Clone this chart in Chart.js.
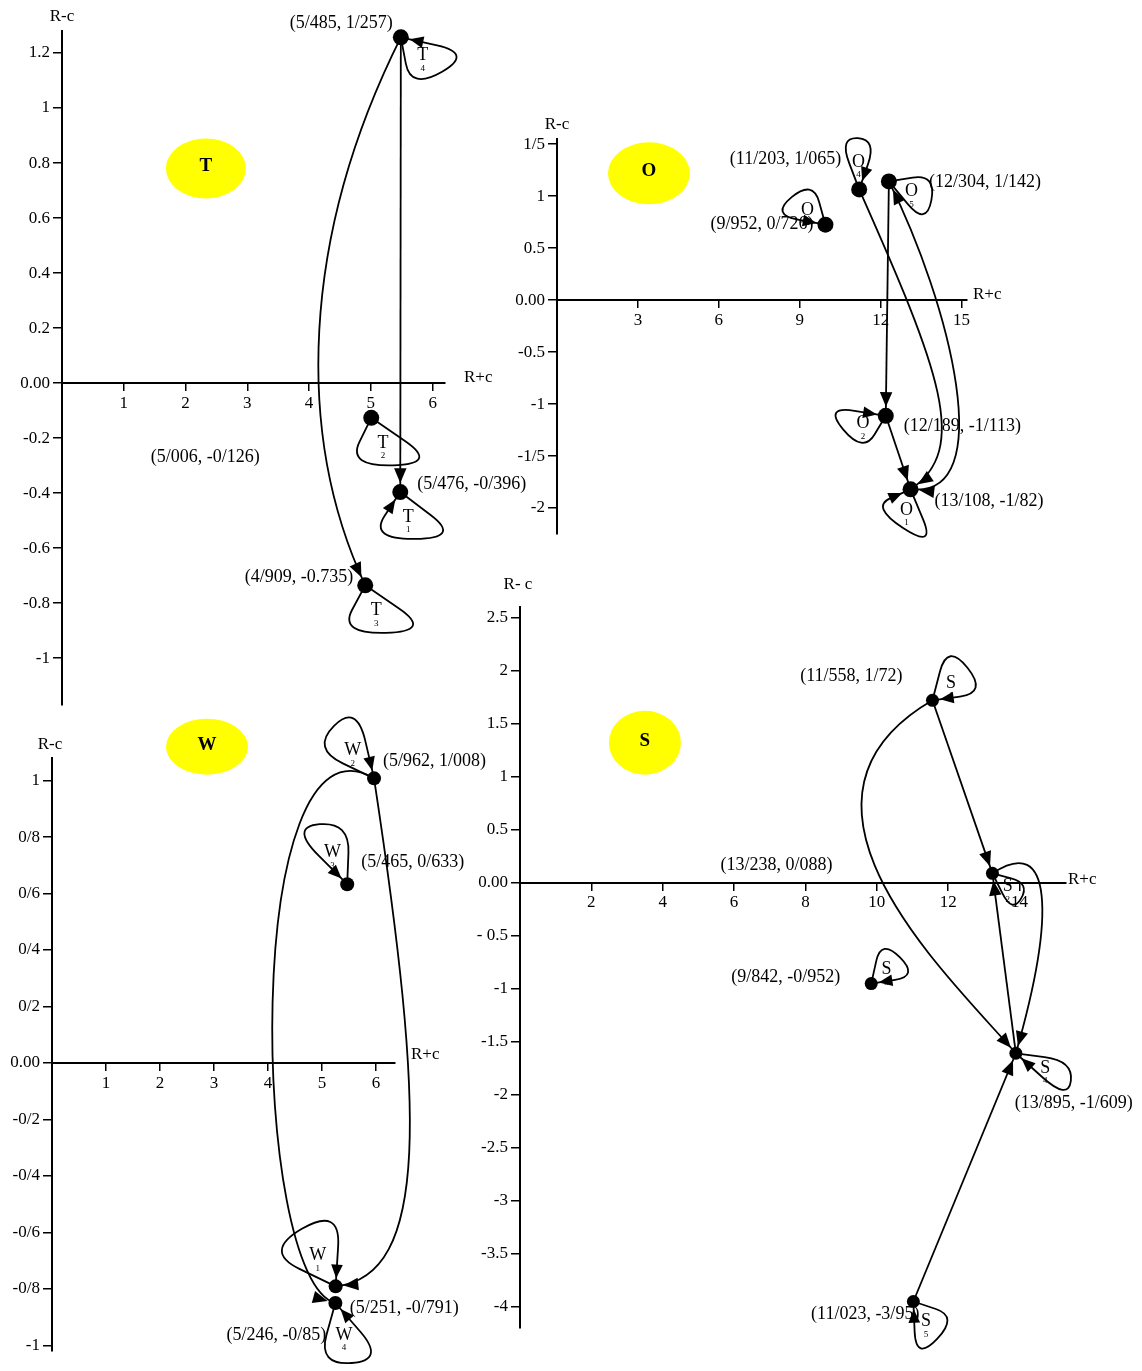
<!DOCTYPE html>
<html>
<head>
<meta charset="utf-8">
<script src="https://cdn.jsdelivr.net/npm/chart.js@4.4.1/dist/chart.umd.min.js"></script>
<style>
  body { margin: 0; background: #fff; }
  #wrap { position: relative; width: 1142px; height: 1371px; overflow: hidden; }
  #wrap canvas { position: absolute; left: 0; top: 0; }
</style>
</head>
<body>
<div id="wrap">
  <canvas id="chartT" width="1142" height="1371"></canvas>
  <canvas id="chartO" width="1142" height="1371"></canvas>
  <canvas id="chartW" width="1142" height="1371"></canvas>
  <canvas id="chartS" width="1142" height="1371"></canvas>
</div>
<script>
// ---- T panel ----
const tNames = ['T1', 'T2', 'T3', 'T4'];
const tX = [5.476, 5.006, 4.909, 5.485];
const tY = [-0.396, -0.126, -0.735, 1.257];
const tLabels = ['(5/476, -0/396)', '(5/006, -0/126)', '(4/909, -0.735)', '(5/485, 1/257)'];
const tEdges = [[3, 0], [3, 2]];
const tTicksX = [1, 2, 3, 4, 5, 6];
const tTicksY = [1.2, 1, 0.8, 0.6, 0.4, 0.2, 0, -0.2, -0.4, -0.6, -0.8, -1];
const tTickLabelsY = ['1.2', '1', '0.8', '0.6', '0.4', '0.2', '0.00', '-0.2', '-0.4', '-0.6', '-0.8', '-1'];

// ---- O panel ----
const oNames = ['O1', 'O2', 'O3', 'O4', 'O5'];
const oX = [13.108, 12.189, 9.952, 11.203, 12.304];
const oY = [-1.82, -1.113, 0.726, 1.065, 1.142];
const oLabels = ['(13/108, -1/82)', '(12/189, -1/113)', '(9/952, 0/726)', '(11/203, 1/065)', '(12/304, 1/142)'];
const oEdges = [[4, 1], [1, 0], [3, 0], [0, 4]];
const oTicksX = [3, 6, 9, 12, 15];
const oTicksY = [1.5, 1, 0.5, 0, -0.5, -1, -1.5, -2];
const oTickLabelsY = ['1/5', '1', '0.5', '0.00', '-0.5', '-1', '-1/5', '-2'];

// ---- W panel ----
const wNames = ['W1', 'W2', 'W3', 'W4'];
const wX = [5.251, 5.962, 5.465, 5.246];
const wY = [-0.791, 1.008, 0.633, -0.85];
const wLabels = ['(5/251, -0/791)', '(5/962, 1/008)', '(5/465, 0/633)', '(5/246, -0/85)'];
const wEdges = [[1, 0], [1, 3]];
const wTicksX = [1, 2, 3, 4, 5, 6];
const wTicksY = [1, 0.8, 0.6, 0.4, 0.2, 0, -0.2, -0.4, -0.6, -0.8, -1];
const wTickLabelsY = ['1', '0/8', '0/6', '0/4', '0/2', '0.00', '-0/2', '-0/4', '-0/6', '-0/8', '-1'];

// ---- S panel ----
const sNames = ['S1', 'S2', 'S3', 'S4', 'S5'];
const sX = [11.558, 13.238, 9.842, 13.895, 11.023];
const sY = [1.72, 0.088, -0.952, -1.609, -3.95];
const sLabels = ['(11/558, 1/72)', '(13/238, 0/088)', '(9/842, -0/952)', '(13/895, -1/609)', '(11/023, -3/95)'];
const sEdges = [[0, 1], [0, 3], [3, 1], [1, 3], [4, 3]];
const sTicksX = [2, 4, 6, 8, 10, 12, 14];
const sTicksY = [2.5, 2, 1.5, 1, 0.5, 0, -0.5, -1, -1.5, -2, -2.5, -3, -3.5, -4];
const sTickLabelsY = ['2.5', '2', '1.5', '1', '0.5', '0.00', '- 0.5', '-1', '-1.5', '-2', '-2.5', '-3', '-3.5', '-4'];

Chart.defaults.font.family = "'Liberation Serif', 'DejaVu Serif', serif";
Chart.defaults.font.size = 17;
Chart.defaults.color = '#000';

function arrowHead(ctx, tx, ty, ang, size) {
    ctx.beginPath();
    ctx.moveTo(tx, ty);
    ctx.lineTo(tx - size * Math.cos(ang - 0.4), ty - size * Math.sin(ang - 0.4));
    ctx.lineTo(tx - size * Math.cos(ang + 0.4), ty - size * Math.sin(ang + 0.4));
    ctx.closePath();
    ctx.fill();
}

function makePanel(id, p) {
    const pts = p.xs.map((v, i) => ({ x: v, y: p.ys[i] }));

    const deco = {
        id: 'deco',
        beforeDatasetsDraw(chart) {
            const ctx = chart.ctx;
            const sx = chart.scales.x, sy = chart.scales.y;
            const node = i => [sx.getPixelForValue(p.xs[i]), sy.getPixelForValue(p.ys[i])];
            ctx.save();

            // yellow badge
            const bx = sx.getPixelForValue(p.badge.x), by = sy.getPixelForValue(p.badge.y);
            ctx.fillStyle = '#ffff00';
            ctx.beginPath();
            ctx.ellipse(bx, by, p.badge.rx, p.badge.ry, 0, 0, Math.PI * 2);
            ctx.fill();
            ctx.fillStyle = '#000';
            ctx.font = "bold 19px 'Liberation Serif'";
            ctx.textAlign = 'center';
            ctx.textBaseline = 'middle';
            ctx.fillText(p.badge.text, bx, by - 2);

            ctx.strokeStyle = '#000';
            ctx.fillStyle = '#000';
            ctx.lineWidth = 1.8;
            ctx.lineJoin = 'round';

            // transitions
            p.edges.forEach((e, k) => {
                const a = node(e[0]), b = node(e[1]);
                const cv = p.curves[k];
                let c1 = a, c2 = b;
                ctx.beginPath();
                ctx.moveTo(a[0], a[1]);
                if (cv) {
                    c1 = [a[0] + cv.c1[0], a[1] + cv.c1[1]];
                    c2 = [b[0] + cv.c2[0], b[1] + cv.c2[1]];
                    ctx.bezierCurveTo(c1[0], c1[1], c2[0], c2[1], b[0], b[1]);
                } else {
                    ctx.lineTo(b[0], b[1]);
                }
                ctx.stroke();
                const r = p.r + 1;
                const endAng = cv ? Math.atan2(b[1] - c2[1], b[0] - c2[0]) : Math.atan2(b[1] - a[1], b[0] - a[0]);
                arrowHead(ctx, b[0] - r * Math.cos(endAng), b[1] - r * Math.sin(endAng), endAng, 16);
                if (cv && cv.both) {
                    const stAng = Math.atan2(a[1] - c1[1], a[0] - c1[0]);
                    arrowHead(ctx, a[0] - r * Math.cos(stAng), a[1] - r * Math.sin(stAng), stAng, 16);
                }
            });

            // self loops: soft triangle node -> p1 -> p2 -> node
            const k = 1.25;
            p.loops.forEach((lp, i) => {
                const n = node(i);
                const q1 = [n[0] + k * lp.p1[0], n[1] + k * lp.p1[1]];
                const q2 = [n[0] + k * lp.p2[0], n[1] + k * lp.p2[1]];
                const m01 = [(n[0] + q1[0]) / 2, (n[1] + q1[1]) / 2];
                const m12 = [(q1[0] + q2[0]) / 2, (q1[1] + q2[1]) / 2];
                const m20 = [(q2[0] + n[0]) / 2, (q2[1] + n[1]) / 2];
                ctx.beginPath();
                ctx.moveTo(n[0], n[1]);
                ctx.lineTo(m01[0], m01[1]);
                ctx.quadraticCurveTo(q1[0], q1[1], m12[0], m12[1]);
                ctx.quadraticCurveTo(q2[0], q2[1], m20[0], m20[1]);
                ctx.lineTo(n[0], n[1]);
                ctx.stroke();
                if (lp.arrow) {
                    const ang = Math.atan2(n[1] - q2[1], n[0] - q2[0]);
                    arrowHead(ctx, n[0] - (p.r + 1) * Math.cos(ang), n[1] - (p.r + 1) * Math.sin(ang), ang, 15);
                }
                const lx = n[0] + (lp.p1[0] + lp.p2[0]) / 3, ly = n[1] + (lp.p1[1] + lp.p2[1]) / 3 + 3;
                const nm = p.names[i];
                ctx.textAlign = 'center';
                ctx.textBaseline = 'middle';
                ctx.font = "18px 'Liberation Serif'";
                ctx.fillText(nm[0], lx, ly - 3);
                ctx.font = "9px 'Liberation Serif'";
                ctx.fillText(nm.slice(1), lx, ly + 10);
            });
            ctx.restore();
        },
        afterDatasetsDraw(chart) {
            const ctx = chart.ctx;
            const sx = chart.scales.x, sy = chart.scales.y;
            const area = chart.chartArea;
            ctx.save();
            ctx.fillStyle = '#000';
            ctx.font = "18px 'Liberation Serif'";
            ctx.textBaseline = 'middle';
            p.labels.forEach((txt, i) => {
                const o = p.labelPos[i];
                ctx.textAlign = o[2];
                ctx.fillText(txt, sx.getPixelForValue(p.xs[i]) + o[0], sy.getPixelForValue(p.ys[i]) + o[1]);
            });
            // axis titles
            ctx.font = "17px 'Liberation Serif'";
            ctx.textAlign = 'center';
            ctx.fillText(p.titleY.text, area.left + p.titleY.dx, area.top + p.titleY.dy);
            ctx.textAlign = 'left';
            ctx.fillText('R+c', area.right + p.titleX.dx, sy.getPixelForValue(0) + p.titleX.dy);
            ctx.restore();
        }
    };

    return new Chart(document.getElementById(id), {
        type: 'scatter',
        data: {
            datasets: [{
                data: pts,
                pointRadius: p.r,
                pointHoverRadius: p.r,
                backgroundColor: '#000',
                borderWidth: 0,
                clip: false
            }]
        },
        options: {
            responsive: false,
            animation: false,
            devicePixelRatio: 1,
            events: [],
            layout: { autoPadding: false, padding: p.pad },
            plugins: { legend: { display: false }, tooltip: { enabled: false } },
            scales: {
                x: {
                    type: 'linear', min: p.xMin, max: p.xMax, position: { y: 0 },
                    afterBuildTicks: s => { s.ticks = p.ticksX.map(v => ({ value: v })); },
                    ticks: { autoSkip: false, maxRotation: 0, padding: 3 },
                    grid: { drawOnChartArea: false, color: '#000', lineWidth: 1.5, tickLength: 7 },
                    border: { color: '#000', width: 2 }
                },
                y: {
                    type: 'linear', min: p.yMin, max: p.yMax, position: 'left',
                    afterFit: s => { s.width = p.yWidth; },
                    afterBuildTicks: s => { s.ticks = p.ticksY.map(v => ({ value: v })); },
                    ticks: { autoSkip: false, padding: 3, callback: (v, i) => p.tickLabelsY[i] },
                    grid: { drawOnChartArea: false, color: '#000', lineWidth: 1.5, tickLength: 9 },
                    border: { color: '#000', width: 2 }
                }
            }
        },
        plugins: [deco]
    });
}

document.addEventListener('DOMContentLoaded', function () {
    makePanel('chartT', {
        names: tNames, xs: tX, ys: tY, labels: tLabels, edges: tEdges,
        ticksX: tTicksX, ticksY: tTicksY, tickLabelsY: tTickLabelsY,
        xMin: 0, xMax: 6.2, yMin: -1.17, yMax: 1.28, r: 8, yWidth: 58,
        pad: { left: 4, top: 31, right: 697, bottom: 666 },
        badge: { x: 2.33, y: 0.78, rx: 40, ry: 30, text: 'T' },
        titleY: { text: 'R-c', dy: -14, dx: 0 }, titleX: { dx: 19, dy: -6 },
        labelPos: [[17, -8, 'left'], [-166, 39, 'center'], [-12, -8, 'right'], [-8, -14, 'right']],
        curves: [null, { c1: [-100, 200], c2: [-70, -150] }],
        loops: [
            { p1: [49, 37], p2: [-25, 38], arrow: true },
            { p1: [54, 37], p2: [-19, 39], arrow: false },
            { p1: [54, 37], p2: [-21, 39], arrow: false },
            { p1: [8, 42], p2: [58, 13], arrow: true }
        ]
    });

    makePanel('chartO', {
        names: oNames, xs: oX, ys: oY, labels: oLabels, edges: oEdges,
        ticksX: oTicksX, ticksY: oTicksY, tickLabelsY: oTickLabelsY,
        xMin: 0, xMax: 15.2, yMin: -2.25, yMax: 1.55, r: 8, yWidth: 60,
        pad: { left: 497, top: 139, right: 175, bottom: 837 },
        badge: { x: 3.41, y: 1.22, rx: 41, ry: 31, text: 'O' },
        titleY: { text: 'R-c', dy: -14, dx: 0 }, titleX: { dx: 6, dy: -6 },
        labelPos: [[24, 12, 'left'], [18, 10, 'left'], [-12, 0, 'right'], [-18, -30, 'right'], [40, 1, 'left']],
        curves: [null, null, { c1: [80, 180], c2: [60, -40] }, { c1: [90, 10], c2: [60, 120], both: true }],
        loops: [
            { p1: [20, 48], p2: [-32, 14], arrow: true },
            { p1: [-18, 30], p2: [-50, -8], arrow: true },
            { p1: [-10, -36], p2: [-44, -8], arrow: true },
            { p1: [-16, -42], p2: [14, -40], arrow: true },
            { p1: [30, 36], p2: [38, -6], arrow: false }
        ]
    });

    makePanel('chartW', {
        names: wNames, xs: wX, ys: wY, labels: wLabels, edges: wEdges,
        ticksX: wTicksX, ticksY: wTicksY, tickLabelsY: wTickLabelsY,
        xMin: 0, xMax: 6.35, yMin: -1.02, yMax: 1.08, r: 7, yWidth: 50,
        pad: { left: 2, top: 758, right: 747, bottom: 20 },
        badge: { x: 2.87, y: 1.12, rx: 41, ry: 28, text: 'W' },
        titleY: { text: 'R-c', dy: -13, dx: -2 }, titleX: { dx: 16, dy: -8 },
        labelPos: [[14, 22, 'left'], [9, -17, 'left'], [14, -22, 'left'], [-9, 32, 'right']],
        curves: [{ c1: [50, 330], c2: [95, -10] }, { c1: [-134, -79], c2: [-85, -23] }],
        loops: [
            { p1: [-58, -28], p2: [4, -64], arrow: true },
            { p1: [-50, -24], p2: [-14, -60], arrow: true },
            { p1: [2, -50], p2: [-46, -46], arrow: true },
            { p1: [-14, 50], p2: [40, 46], arrow: true }
        ]
    });

    makePanel('chartS', {
        names: sNames, xs: sX, ys: sY, labels: sLabels, edges: sEdges,
        ticksX: sTicksX, ticksY: sTicksY, tickLabelsY: sTickLabelsY,
        xMin: 0, xMax: 15.3, yMin: -4.2, yMax: 2.6, r: 6.5, yWidth: 60,
        pad: { left: 460, top: 607, right: 76, bottom: 43 },
        badge: { x: 3.5, y: 1.32, rx: 36, ry: 32, text: 'S' },
        titleY: { text: 'R- c', dy: -22, dx: -2 }, titleX: { dx: 2, dy: -3 },
        labelPos: [[-30, -24, 'right'], [-160, -8, 'right'], [-31, -6, 'right'], [58, 50, 'center'], [6, 13, 'right']],
        curves: [null, { c1: [-172, 100], c2: [-70, -80] }, null, { c1: [60, -40], c2: [40, -140] }, null],
        loops: [
            { p1: [12, -46], p2: [44, -6], arrow: true },
            { p1: [30, 8], p2: [16, 32], arrow: false },
            { p1: [8, -36], p2: [38, -6], arrow: true },
            { p1: [46, 6], p2: [42, 38], arrow: true },
            { p1: [36, 12], p2: [2, 48], arrow: true }
        ]
    });
});
</script>
</body>
</html>
